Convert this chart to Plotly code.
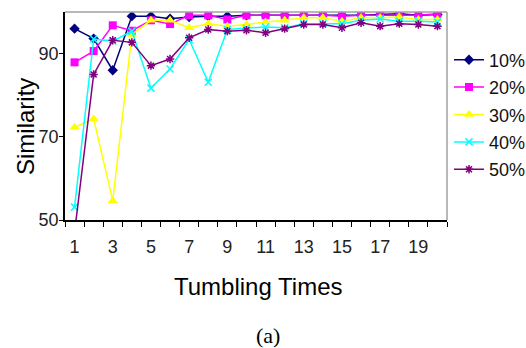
import plotly.graph_objects as go

times = list(range(1, 21))
s10 = [96.0, 93.6, 86.0, 99.0, 99.0, 98.4, 98.8, 99.0, 99.0, 99.2, 99.2, 99.2, 99.2, 99.2, 99.2, 99.2, 99.4, 99.6, 99.2, 99.4]
s20 = [87.9, 90.6, 96.8, 95.5, 98.0, 97.1, 99.2, 99.2, 98.2, 99.2, 99.2, 99.2, 99.2, 99.2, 99.0, 99.2, 99.2, 99.2, 99.2, 99.6]
s30 = [72.3, 74.3, 54.6, 94.6, 98.0, 98.0, 96.2, 97.2, 96.6, 97.0, 97.6, 98.0, 98.6, 98.6, 97.8, 98.6, 98.6, 98.8, 98.2, 98.2]
s40 = [53.1, 93.5, 93.0, 95.4, 81.7, 86.3, 93.4, 83.1, 95.8, 96.1, 96.4, 96.2, 97.2, 97.2, 97.2, 98.0, 98.3, 97.8, 97.8, 97.6]
s50 = [47.0, 85.0, 93.2, 92.7, 87.1, 88.7, 93.8, 95.8, 95.4, 95.6, 95.0, 96.0, 97.0, 97.0, 96.2, 97.4, 96.6, 97.2, 97.0, 96.6]
names = ["10%", "20%", "30%", "40%", "50%"]
xlabels = [1, 3, 5, 7, 9, 11, 13, 15, 17, 19]
ytickvals = [50, 70, 90]

series = [s10, s20, s30, s40, s50]
colors = ["#000080", "#FF00FF", "#FFFF00", "#00FFFF", "#800080"]
symbols = ["diamond", "square", "triangle-up", "x-thin-open", "asterisk-open"]
sizes = [8, 8, 9, 7, 7]

fig = go.Figure()
for i, (name, ys) in enumerate(zip(names, series)):
    fig.add_trace(go.Scatter(
        x=times, y=ys, name=name, mode="lines+markers",
        legendgroup=name,
        line=dict(color=colors[i], width=1.5),
        marker=dict(symbol=symbols[i], size=sizes[i], color=colors[i],
                    line=dict(color=colors[i], width=1.5 if i >= 3 else 0)),
    ))

L, R, T, B = 65, 447, 12, 220
W, H = 526, 348

def px(x):
    return (x - L) / (R - L)

def py(y):
    return (B - y) / (B - T)

fig.update_layout(
    width=W, height=H,
    margin=dict(l=L, r=W - R, t=T, b=H - B, autoexpand=False),
    paper_bgcolor="white", plot_bgcolor="white",
    font=dict(family="Liberation Sans, Arial", color="#222222", size=18),
    showlegend=True,
    legend=dict(x=px(449), y=py(41.5), xanchor="left", yanchor="top",
                font=dict(size=18, color="#111111"), tracegroupgap=1,
                bgcolor="rgba(0,0,0,0)", itemwidth=30),
    xaxis=dict(range=[0.5, 20.5], tickmode="array", tickvals=xlabels,
               ticktext=[str(v) for v in xlabels], ticks="",
               ticklabelstandoff=10,
               showline=True, linecolor="black", linewidth=1.5,
               showgrid=False, zeroline=False,
               minor=dict(tickvals=[v + 0.5 for v in range(0, 21)], ticks="outside",
                          ticklen=5, tickcolor="black", tickwidth=1, showgrid=False)),
    yaxis=dict(range=[50, 100], tickmode="array", tickvals=ytickvals,
               ticks="outside", ticklen=4, tickcolor="black",
               ticklabelstandoff=-3,
               showline=True, linecolor="black", linewidth=1.5,
               showgrid=False, zeroline=False),
)

fig.add_shape(type="line", xref="paper", yref="paper", x0=0, x1=1, y0=1, y1=1,
              line=dict(color="#A0A0A0", width=1.5))
fig.add_shape(type="line", xref="paper", yref="paper", x0=1, x1=1, y0=0, y1=1,
              line=dict(color="#A0A0A0", width=1.5))

fig.add_annotation(text="Similarity", xref="paper", yref="paper", x=px(25), y=py(127),
                   textangle=-90, showarrow=False, xanchor="center", yanchor="middle",
                   font=dict(size=24, color="black", family="Liberation Sans, Arial"))
fig.add_annotation(text="Tumbling Times", xref="paper", yref="paper", x=px(258), y=py(286),
                   showarrow=False, xanchor="center", yanchor="middle",
                   font=dict(size=24, color="black", family="Liberation Sans, Arial"))
fig.add_annotation(text="(a)", xref="paper", yref="paper", x=px(268), y=py(335),
                   showarrow=False, xanchor="center", yanchor="middle",
                   font=dict(size=22, color="black", family="Liberation Serif, Times New Roman, serif"))

fig.write_html("out.html")
